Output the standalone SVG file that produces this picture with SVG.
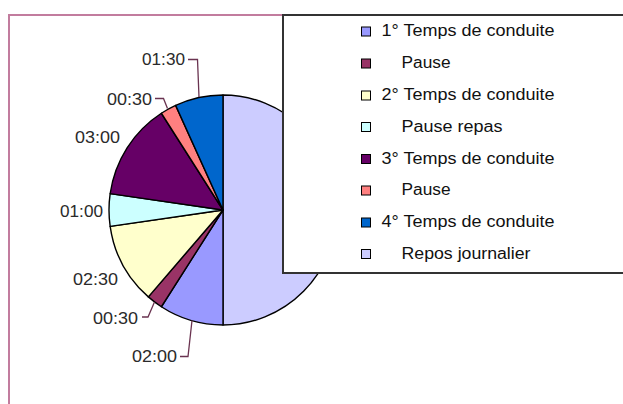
<svg xmlns="http://www.w3.org/2000/svg" width="623" height="404" viewBox="0 0 623 404">
<style>
.sl{stroke:#000;stroke-width:1.4;stroke-linejoin:round}
.lbl{font-family:"Liberation Sans",Arial,sans-serif;font-size:16.5px;fill:#2a2a2a}
.lg{font-family:"Liberation Sans",Arial,sans-serif;font-size:16px;fill:#111}
.sw{stroke:#000;stroke-width:1}
.ld{fill:none;stroke:#6a3350;stroke-width:1.3}
</style>
<rect x="0" y="0" width="623" height="404" fill="#fff"/>
<g id="chart-area">
<path d="M9,404 V15 H300" fill="none" stroke="#c27c9e" stroke-width="2"/>
</g>
<g id="pie">
<path id="repos" class="sl" fill="#ccccff" d="M223,210 L223,95 A114,115 0 0,1 223,325 Z"/>
<path id="t1" class="sl" fill="#9999ff" d="M223,210 L223,325 A114,115 0 0,1 161.37,306.75 Z"/>
<path id="p1" class="sl" fill="#993366" d="M223,210 L161.37,306.75 A114,115 0 0,1 148.34,296.9 Z"/>
<path id="t2" class="sl" fill="#ffffcc" d="M223,210 L148.34,296.9 A114,115 0 0,1 110.16,226.37 Z"/>
<path id="pr" class="sl" fill="#ccffff" d="M223,210 L110.16,226.37 A114,115 0 0,1 110.16,193.63 Z"/>
<path id="t3" class="sl" fill="#660066" d="M223,210 L110.16,193.63 A114,115 0 0,1 161.37,113.25 Z"/>
<path id="p2" class="sl" fill="#ff8080" d="M223,210 L161.37,113.25 A114,115 0 0,1 175.64,105.4 Z"/>
<path id="t4" class="sl" fill="#0066cc" d="M223,210 L175.64,105.4 A114,115 0 0,1 223,95 Z"/>
</g>
<g id="connectors">
<path class="ld" d="M188,59.5 H197.5 L199,97"/>
<path class="ld" d="M155,98.5 H163.5 L167.5,108.5"/>
<path class="ld" d="M142,317 H148 L154.5,302"/>
<path class="ld" d="M180,356.5 H188 L192,320.5"/>
</g>
<g id="label-0130"><text class="lbl" x="142" y="65" textLength="43" lengthAdjust="spacingAndGlyphs">01:30</text></g>
<g id="label-0030a"><text class="lbl" x="107" y="105" textLength="45" lengthAdjust="spacingAndGlyphs">00:30</text></g>
<g id="label-0300"><text class="lbl" x="75" y="143" textLength="45" lengthAdjust="spacingAndGlyphs">03:00</text></g>
<g id="label-0100"><text class="lbl" x="60" y="217" textLength="43" lengthAdjust="spacingAndGlyphs">01:00</text></g>
<g id="label-0230"><text class="lbl" x="73" y="285" textLength="45" lengthAdjust="spacingAndGlyphs">02:30</text></g>
<g id="label-0030b"><text class="lbl" x="93" y="324" textLength="45" lengthAdjust="spacingAndGlyphs">00:30</text></g>
<g id="label-0200"><text class="lbl" x="132" y="362" textLength="45" lengthAdjust="spacingAndGlyphs">02:00</text></g>
<g id="legend">
<rect x="283" y="15" width="350" height="258" fill="#fff" stroke="#333" stroke-width="2"/>
<g id="leg-t1"><rect class="sw" x="361.5" y="27" width="9" height="9" fill="#9999ff"/><text class="lg" x="381.5" y="36" textLength="173" lengthAdjust="spacingAndGlyphs">1° Temps de conduite</text></g>
<g id="leg-p1"><rect class="sw" x="361.5" y="59" width="9" height="9" fill="#993366"/><text class="lg" x="401.5" y="68" textLength="49" lengthAdjust="spacingAndGlyphs">Pause</text></g>
<g id="leg-t2"><rect class="sw" x="361.5" y="91" width="9" height="9" fill="#ffffcc"/><text class="lg" x="381.5" y="100" textLength="173" lengthAdjust="spacingAndGlyphs">2° Temps de conduite</text></g>
<g id="leg-pr"><rect class="sw" x="361.5" y="122.5" width="9" height="9" fill="#ccffff"/><text class="lg" x="401.5" y="131.5" textLength="101" lengthAdjust="spacingAndGlyphs">Pause repas</text></g>
<g id="leg-t3"><rect class="sw" x="361.5" y="154.5" width="9" height="9" fill="#660066"/><text class="lg" x="381.5" y="163.5" textLength="173" lengthAdjust="spacingAndGlyphs">3° Temps de conduite</text></g>
<g id="leg-p2"><rect class="sw" x="361.5" y="186" width="9" height="9" fill="#ff8080"/><text class="lg" x="401.5" y="195" textLength="49" lengthAdjust="spacingAndGlyphs">Pause</text></g>
<g id="leg-t4"><rect class="sw" x="361.5" y="218" width="9" height="9" fill="#0066cc"/><text class="lg" x="381.5" y="227" textLength="173" lengthAdjust="spacingAndGlyphs">4° Temps de conduite</text></g>
<g id="leg-repos"><rect class="sw" x="361.5" y="249.5" width="9" height="9" fill="#ccccff"/><text class="lg" x="401.5" y="258.5" textLength="129" lengthAdjust="spacingAndGlyphs">Repos journalier</text></g>
</g>
</svg>
